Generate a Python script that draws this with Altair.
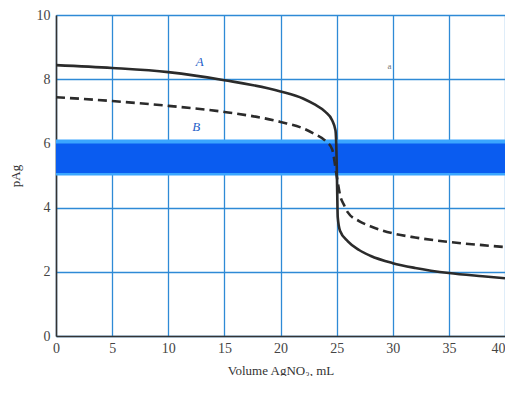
import altair as alt
import pandas as pd

# Curve A (solid)
a_x = [0, 5, 10, 15, 20, 22, 23, 24, 24.6, 24.9, 25.0, 25.05, 25.1, 25.3, 26, 27, 28, 30, 32, 35, 38, 40]
a_y = [8.44, 8.35, 8.22, 7.97, 7.62, 7.4, 7.22, 6.98, 6.72, 6.4, 5.5, 4.5, 3.7, 3.28, 2.95, 2.68, 2.5, 2.27, 2.12, 1.96, 1.86, 1.8]
# Curve B (dashed)
b_x = [0, 5, 10, 15, 20, 22, 23, 24, 24.6, 25.0, 25.3, 25.7, 26, 27, 28, 30, 32, 35, 38, 40]
b_y = [7.44, 7.32, 7.17, 6.98, 6.67, 6.47, 6.3, 6.08, 5.82, 5.0, 4.4, 4.05, 3.85, 3.58, 3.42, 3.2, 3.07, 2.93, 2.83, 2.77]

x_ticks = [0, 5, 10, 15, 20, 25, 30, 35, 40]
y_ticks = [0, 2, 4, 6, 8, 10]

band_lo, band_hi = 5.0, 6.12
band_core_lo, band_core_hi = 5.08, 6.0

labels = ["A", "B"]
label_x = [12.8, 12.5]
label_y = [8.55, 6.5]

df_a = pd.DataFrame({"x": a_x, "y": a_y})
df_b = pd.DataFrame({"x": b_x, "y": b_y})
df_band = pd.DataFrame({"x": [0], "x2": [40], "y": [band_lo], "y2": [band_hi]})
df_core = pd.DataFrame({"x": [0], "x2": [40], "y": [band_core_lo], "y2": [band_core_hi]})
df_lab = pd.DataFrame({"t": labels, "x": label_x, "y": label_y})
df_dot = pd.DataFrame({"t": ["a"], "x": [29.7], "y": [8.4]})

xs = alt.Scale(domain=[0, 40], nice=False, zero=False)
ys = alt.Scale(domain=[0, 10], nice=False, zero=False)

xaxis = alt.Axis(values=x_ticks, title="Volume AgNO\u2083, mL", grid=True, gridColor="#2e8ad6",
                 gridWidth=1.3, domainColor="#333", domainWidth=1.6, ticks=False,
                 labelAlign=alt.expr("datum.value == 40 ? 'right' : 'center'"),
                 labelFont="Liberation Serif", labelFontSize=14, labelColor="#444", labelPadding=5,
                 titleFont="Liberation Serif", titleFontSize=13, titleFontWeight="normal",
                 titleColor="#333", titlePadding=9)
yaxis = alt.Axis(values=y_ticks, title="pAg", grid=True, gridColor="#2e8ad6",
                 gridWidth=1.3, domainColor="#333", domainWidth=1.6, ticks=False,
                 labelFont="Liberation Serif", labelFontSize=14, labelColor="#444", labelPadding=6,
                 titleFont="Liberation Serif", titleFontSize=13, titleFontWeight="normal",
                 titleColor="#333", titlePadding=14)

band = alt.Chart(df_band).mark_rect(color="#3aa6ff").encode(
    x=alt.X("x:Q", scale=xs, axis=xaxis), x2="x2", y=alt.Y("y:Q", scale=ys, axis=yaxis), y2="y2")
core = alt.Chart(df_core).mark_rect(color="#0a5cf0").encode(
    x=alt.X("x:Q", scale=xs), x2="x2", y=alt.Y("y:Q", scale=ys), y2="y2")

line_a = alt.Chart(df_a).mark_line(color="#2b2b2b", strokeWidth=2.6, interpolate="monotone").encode(
    x=alt.X("x:Q", scale=xs), y=alt.Y("y:Q", scale=ys))
line_b = alt.Chart(df_b).mark_line(color="#2b2b2b", strokeWidth=2.6, strokeDash=[9, 5],
                                   interpolate="monotone").encode(
    x=alt.X("x:Q", scale=xs), y=alt.Y("y:Q", scale=ys))

lab = alt.Chart(df_lab).mark_text(font="Liberation Serif", fontSize=13, fontStyle="italic",
                                  color="#1f5fc8").encode(
    x=alt.X("x:Q", scale=xs), y=alt.Y("y:Q", scale=ys), text="t:N")
dot = alt.Chart(df_dot).mark_text(font="Liberation Serif", fontSize=9, color="#777").encode(
    x=alt.X("x:Q", scale=xs), y=alt.Y("y:Q", scale=ys), text="t:N")

chart = alt.layer(band, core, line_a, line_b, lab, dot).properties(
    width=449, height=321,
    autosize=alt.AutoSizeParams(type="none"),
    padding={"left": 48, "top": 7, "right": 0, "bottom": 40},
).configure_view(stroke="#9a9a9a", strokeWidth=1.5).configure(background="white")

chart.save("out.html", embed_options={"renderer": "svg", "actions": False})
